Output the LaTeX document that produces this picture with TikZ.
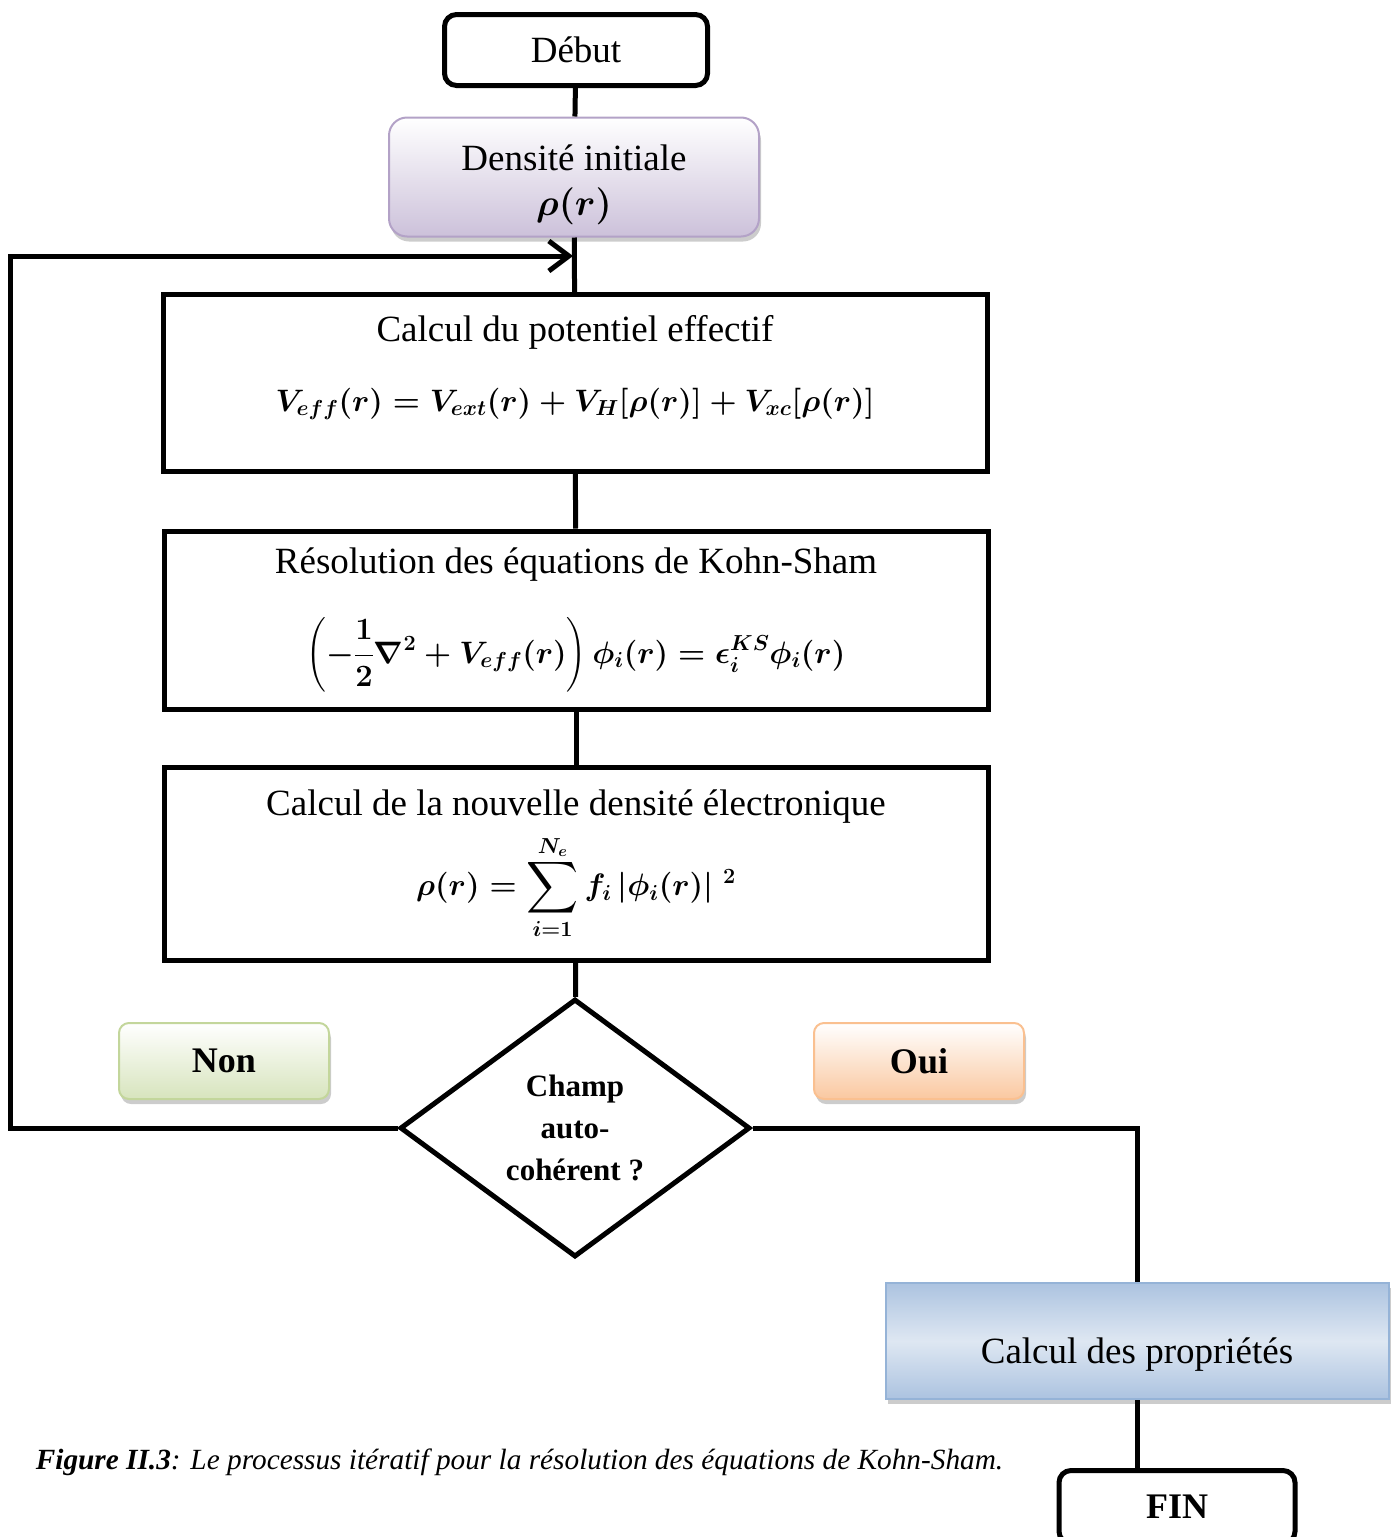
\documentclass[tikz,border=0pt]{standalone}
\usepackage{fix-cm}
\usepackage{amsmath}
\usepackage{bm}
\usepackage{fontspec}
\setmainfont{Liberation Serif}
\usetikzlibrary{%
	calc,%
	arrows.meta,%
	shapes.geometric,%
	shadows,%
}
\definecolor{cpurple}{RGB}{179, 162, 199}
\definecolor{cpurplelight}{RGB}{204, 193, 218}
\definecolor{cgreen}{RGB}{195, 214, 155}
\definecolor{cgreenlight}{RGB}{215, 228, 189}
\definecolor{corange}{RGB}{250, 192, 144}
\definecolor{corangelight}{RGB}{250, 200, 160}
\definecolor{cblue}{RGB}{149, 179, 215}
\definecolor{cbluelight}{RGB}{222, 231, 242}
\definecolor{cbluemid}{RGB}{172, 195, 224}
\newcommand{\boxfont}{\fontsize{37}{44}\selectfont}
\newcommand{\mathfont}{\fontsize{31}{44}\selectfont}
\newcommand{\bigsum}{\mathop{\vcenter{\hbox{\scalebox{1.45}{$\displaystyle\sum$}}}}\limits}
\tikzset{
	>={Straight Barb[length=20pt, width=30pt]},%
	nodes={align=center},%
	link/.style={line width=5pt},%
	softshadow/.style={drop shadow={shadow xshift=2pt, shadow yshift=-5pt, fill=black!40}},%
	termnode/.style={%
			draw,%
			rectangle,%
			line width=5pt,%
			rounded corners=12pt,%
			fill=white,%
			font=\boxfont},%
	procnode/.style={%
			draw,%
			rectangle,%
			line width=5pt,%
			fill=white,%
			minimum width=824pt,%
			font=\boxfont},%
	initnode/.style={%
			draw=cpurple,%
			line width=2pt,%
			rectangle,%
			rounded corners=18pt,%
			top color=white,%
			bottom color=cpurplelight,%
			softshadow,%
			font=\boxfont},%
	answernode/.style={%
			line width=2pt,%
			rectangle,%
			rounded corners=10pt,%
			top color=white,%
			minimum width=210pt,%
			minimum height=76pt,%
			softshadow,%
			font=\bfseries\fontsize{36}{42}\selectfont},%
	choicenode/.style={%
			draw,%
			diamond,%
			aspect=1.35,%
			inner sep=0pt,%
			line width=5pt,%
			minimum width=350pt,%
			minimum height=258pt,%
			fill=white,%
			font=\bfseries\fontsize{31}{42}\selectfont},%
	resultnode/.style={%
			draw=cblue,%
			line width=2pt,%
			rectangle,%
			minimum width=503pt,%
			minimum height=116pt,%
			top color=cbluemid,%
			bottom color=cbluemid,%
			middle color=cbluelight,%
			softshadow,%
			font=\boxfont},%
}

\begin{document}
\begin{tikzpicture}[x=1pt, y=-1pt]
	\useasboundingbox (0,0) rectangle (1397,1537);

	\node[termnode, minimum width=263pt, minimum height=71pt] (debut) at (576,50) {Début};
	\node[initnode, minimum width=370pt, minimum height=119pt] (dens) at (574,177) {\rule{0pt}{42pt}Densité initiale\\[1pt]$\bm{\rho(r)}$};

	\node[procnode, minimum height=177pt] (potential) at (575,383) {Calcul du potentiel effectif\\[26pt]
		{\mathfont\boldmath$V_{eff}(r) = V_{ext}(r) + V_{H}[\rho(r)] + V_{xc}[\rho(r)]$}\rule[-40pt]{0pt}{0pt}};
	\node[procnode, minimum height=178pt] (kohnsham) at (576,620) {Résolution des équations de Kohn-Sham\\[36pt]
		{\mathfont\boldmath$\displaystyle\left(-\frac{1}{2}\nabla^{2} + V_{eff}(r)\right)\phi_{i}(r) = \epsilon_{i}^{KS}\phi_{i}(r)$}};
	\node[procnode, minimum height=193pt] (density) at (576,864) {Calcul de la nouvelle densité électronique\\[12pt]
		{\mathfont\boldmath$\displaystyle\rho(r) = \bigsum_{i=1}^{N_e} f_{i}\,|\phi_{i}(r)|\;{}^{2}$}};

	\node[choicenode] (test) at (575,1128) {Champ\\auto-\\cohérent ?};

	\node[answernode, draw=cgreen, bottom color=cgreenlight] (non) at (224,1061) {Non};
	\node[answernode, draw=corange, bottom color=corangelight] (oui) at (919,1061) {Oui};

	\node[resultnode] (props) at (1137,1341) {\rule{0pt}{53pt}Calcul des propriétés};
	\node[termnode, font=\bfseries\fontsize{36}{42}\selectfont, minimum width=236pt, minimum height=73pt] (fin) at (1177,1507) {FIN};
	\node[termnode, draw=none, fill=none, anchor=west, font=\fontsize{29.3}{34}\selectfont] (caption) at (30,1462) {\textbf{\textit{Figure II.3}}\textit{: Le processus itératif pour la résolution des équations de Kohn-Sham.}};

	\coordinate (merge) at (573,256);
	\coordinate (leftrail) at (10,256);

	\draw[link] (debut) -- (dens);
	\draw[link] (dens) -- (potential);
	\draw[link] (potential) -- (kohnsham);
	\draw[link] (kohnsham) -- (density);
	\draw[link] (density) -- (test);
	\draw[link, ->] (test.west) -- (test.west -| leftrail) |- (merge);
	\draw[link] (test.east) -| (props.north);
	\draw[link] (props.south) -- (props.south |- fin.north);
\end{tikzpicture}
\end{document}
